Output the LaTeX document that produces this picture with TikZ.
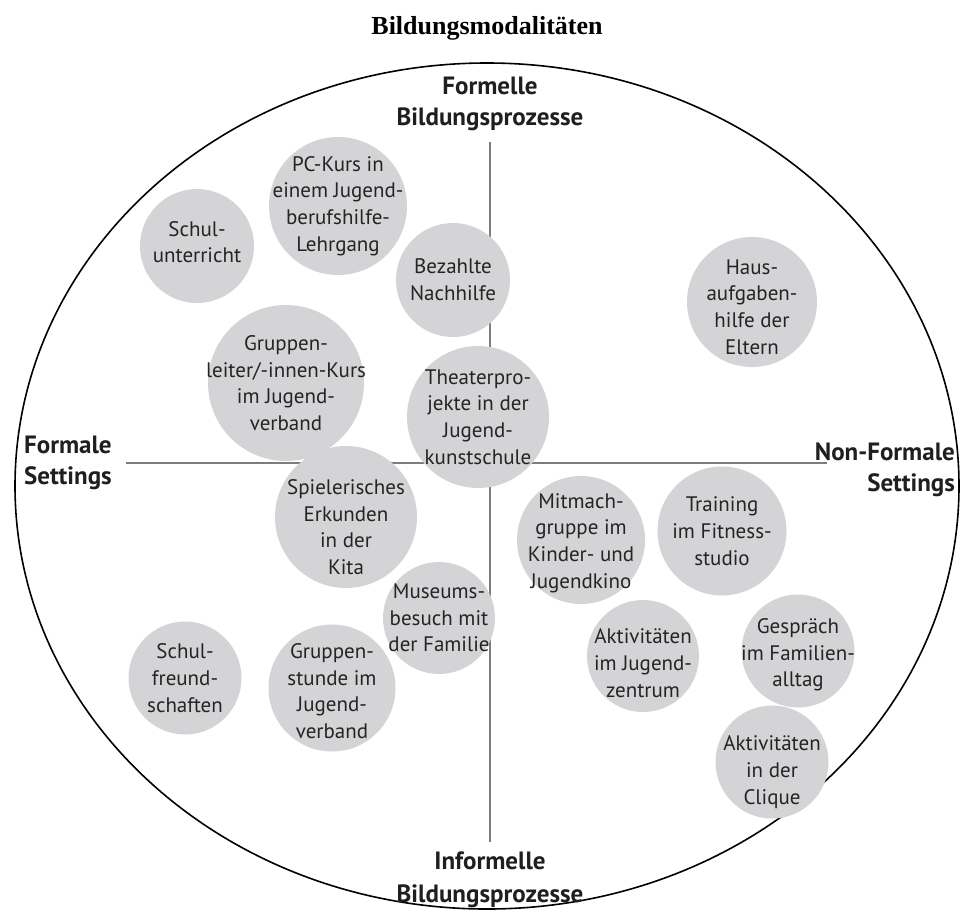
\documentclass[tikz,border=0pt]{standalone}
\usepackage{fontspec}
\setmainfont{PT Sans}
\newfontfamily\titlefont{Liberation Serif}
\usepackage{tikz}
\definecolor{bubblegray}{RGB}{212, 212, 214}
\definecolor{axisgray}{RGB}{125, 125, 125}
\definecolor{textdark}{RGB}{36, 36, 36}

\begin{document}
\begin{tikzpicture}[
    x=1pt, y=-1pt,
    bubble/.style={circle, fill=bubblegray, inner sep=0pt},
    bubbletext/.style={align=center, inner sep=0pt, text=textdark, font=\fontsize{21}{26.7}\selectfont},
    axislabel/.style={inner sep=0pt, text=black!88, font=\bfseries\fontsize{25}{31}\selectfont},
    axisline/.style={draw=axisgray, line width=1.6pt}
]
    \useasboundingbox (0,0) rectangle (960,911);

    \node[inner sep=0pt, font=\titlefont\bfseries\fontsize{26}{30}\selectfont] (title) at (487,28) {Bildungsmodalitäten};
    \draw[line width=1.6pt] (487,486) ellipse [x radius=472, y radius=423];

    % axes
    \coordinate (north) at (490,142);
    \coordinate (south) at (490,842);
    \coordinate (west) at (126,463);
    \coordinate (east) at (827,463);
    \draw[axisline] (north) -- (south);
    \draw[axisline] (west) -- (east);

    \node[axislabel, align=center] (formell) at (490,104) {Formelle\\Bildungsprozesse};
    \node[axislabel, align=center, font=\bfseries\fontsize{25}{32.5}\selectfont] (informell) at (490,880) {Informelle\\Bildungsprozesse};
    \node[axislabel, align=left, anchor=west] (formal) at (24,463) {Formale\\Settings};
    \node[axislabel, align=right, anchor=east] (nonformal) at (955,470) {Non-Formale\\Settings};

    % bubbles
    \node[bubble, minimum size=114] (schul) at (197,246) {};
    \node[bubble, minimum size=138] (pckurs) at (338,206) {};
    \node[bubble, minimum size=114] (nachhilfe) at (453,280) {};
    \node[bubble, minimum size=130] (haus) at (752,302) {};
    \node[bubble, minimum size=156] (leiter) at (286,383) {};
    \node[bubble, minimum size=142] (theater) at (478,417) {};
    \node[bubble, minimum size=142] (kita) at (346,517) {};
    \node[bubble, minimum size=128] (kino) at (581,540) {};
    \node[bubble, minimum size=129] (fitness) at (722,531) {};
    \node[bubble, minimum size=112] (museum) at (439,618) {};
    \node[bubble, minimum size=113] (freunde) at (185,678) {};
    \node[bubble, minimum size=127] (stunde) at (332,688) {};
    \node[bubble, minimum size=112] (zentrum) at (643,656) {};
    \node[bubble, minimum size=113] (familie) at (798,651) {};
    \node[bubble, minimum size=113] (clique) at (772,762) {};

    \node[bubbletext, yshift=4pt] (schul-txt) at (schul) {Schul-\\unterricht};
    \node[bubbletext] (pckurs-txt) at (pckurs) {PC-Kurs in\\einem Jugend-\\berufshilfe-\\Lehrgang};
    \node[bubbletext] (nachhilfe-txt) at (nachhilfe) {Bezahlte\\Nachhilfe};
    \node[bubbletext, yshift=-5pt] (haus-txt) at (haus) {Haus-\\aufgaben-\\hilfe der\\Eltern};
    \node[bubbletext] (leiter-txt) at (leiter) {Gruppen-\\leiter/-innen-Kurs\\im Jugend-\\verband};
    \node[bubbletext] (theater-txt) at (theater) {Theaterpro-\\jekte in der\\Jugend-\\kunstschule};
    \node[bubbletext, yshift=-10pt] (kita-txt) at (kita) {Spielerisches\\Erkunden\\in der\\Kita};
    \node[bubbletext, yshift=-3pt] (kino-txt) at (kino) {Mitmach-\\gruppe im\\Kinder- und\\Jugendkino};
    \node[bubbletext] (fitness-txt) at (fitness) {Training\\im Fitness-\\studio};
    \node[bubbletext] (museum-txt) at (museum) {Museums-\\besuch mit\\der Familie};
    \node[bubbletext] (freunde-txt) at (freunde) {Schul-\\freund-\\schaften};
    \node[bubbletext, yshift=-3pt] (stunde-txt) at (stunde) {Gruppen-\\stunde im\\Jugend-\\verband};
    \node[bubbletext, yshift=-7pt] (zentrum-txt) at (zentrum) {Aktivitäten\\im Jugend-\\zentrum};
    \node[bubbletext, yshift=-4pt] (familie-txt) at (familie) {Gespräch\\im Familien-\\alltag};
    \node[bubbletext, yshift=-10pt] (clique-txt) at (clique) {Aktivitäten\\in der\\Clique};
\end{tikzpicture}
\end{document}
